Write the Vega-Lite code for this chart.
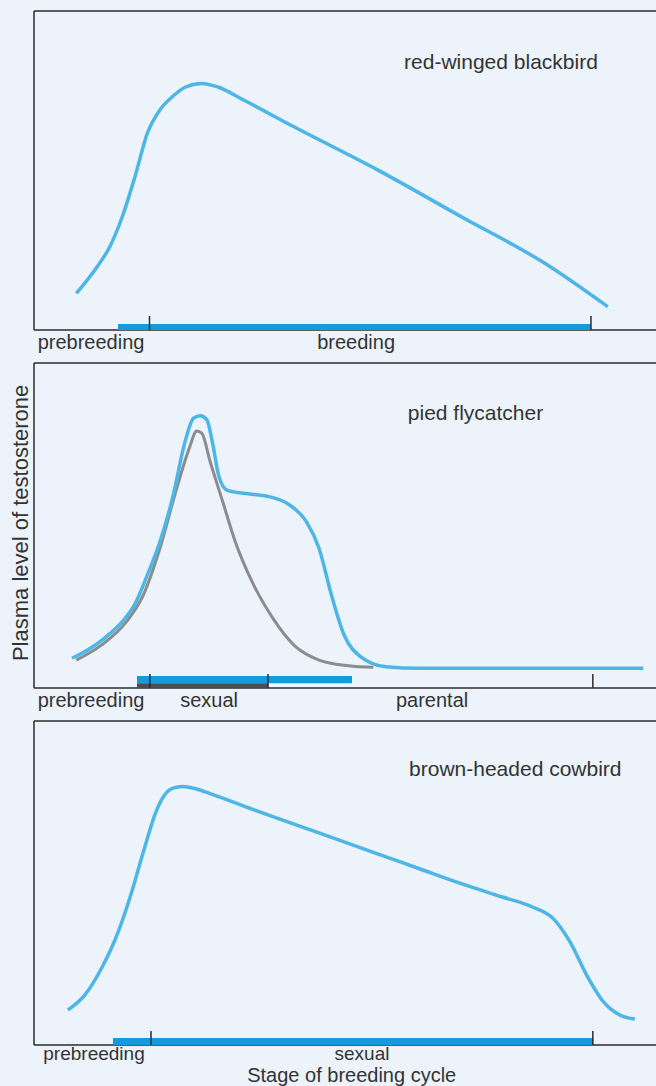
{
  "$schema": "https://vega.github.io/schema/vega-lite/v6.json",
  "background": "#ecf3fa",
  "padding": {"left": 9, "top": 10, "right": 0, "bottom": 0},
  "spacing": 33,
  "bounds": "flush",
  "config": {"view": {"stroke": null}, "text": {"font": "Liberation Sans", "color": "#333333"}},
  "datasets": {
    "one": [{"k": 1}],
    "c1": [
      {"x": 6.79, "y": 11.5}, {"x": 10.14, "y": 19.84}, {"x": 12.17, "y": 26.11}, {"x": 14.17, "y": 35.5},
      {"x": 16.2, "y": 48.0}, {"x": 18.2, "y": 61.7}, {"x": 20.2, "y": 69.0}, {"x": 22.2, "y": 73.1},
      {"x": 24.24, "y": 76.1}, {"x": 26.93, "y": 77.3}, {"x": 29.63, "y": 76.1}, {"x": 33.66, "y": 72.1},
      {"x": 41.72, "y": 63.7}, {"x": 55.15, "y": 50.2}, {"x": 68.59, "y": 35.5}, {"x": 82.0, "y": 20.9},
      {"x": 92.09, "y": 7.3}
    ],
    "t1": [{"x": 18.54}, {"x": 89.4}],
    "b1": [{"x": 13.48, "x2": 89.4}],
    "l1": [{"x": 9.15, "y": -6, "label": "prebreeding"}, {"x": 51.7, "y": -6, "label": "breeding"}],
    "s1": [{"x": 59.4, "y": 81.7, "label": "red-winged blackbird"}],
    "c2": [
      {"x": 6.12, "y": 9.14}, {"x": 8.81, "y": 11.9}, {"x": 11.49, "y": 15.6}, {"x": 14.17, "y": 20.4},
      {"x": 16.2, "y": 25.8}, {"x": 18.2, "y": 34.8}, {"x": 20.22, "y": 45.0}, {"x": 22.23, "y": 58.4},
      {"x": 24.25, "y": 75.8}, {"x": 25.6, "y": 83.0}, {"x": 26.74, "y": 83.8}, {"x": 27.75, "y": 82.5},
      {"x": 28.62, "y": 75.8}, {"x": 29.63, "y": 65.5}, {"x": 30.96, "y": 60.9}, {"x": 33.66, "y": 59.9},
      {"x": 37.69, "y": 58.9}, {"x": 41.04, "y": 56.3}, {"x": 43.72, "y": 51.2}, {"x": 45.75, "y": 43.0},
      {"x": 47.75, "y": 28.6}, {"x": 49.78, "y": 16.3}, {"x": 52.46, "y": 9.6}, {"x": 56.48, "y": 6.55},
      {"x": 61.86, "y": 6.06}, {"x": 97.8, "y": 6.06}
    ],
    "g2": [
      {"x": 6.79, "y": 8.6}, {"x": 10.82, "y": 13.2}, {"x": 14.85, "y": 20.4}, {"x": 17.54, "y": 28.6},
      {"x": 20.22, "y": 43.0}, {"x": 22.9, "y": 61.4}, {"x": 24.93, "y": 73.8}, {"x": 26.13, "y": 79.1},
      {"x": 26.93, "y": 78.4}, {"x": 28.28, "y": 69.6}, {"x": 30.3, "y": 57.3}, {"x": 32.31, "y": 45.0},
      {"x": 35.0, "y": 32.7}, {"x": 38.36, "y": 21.4}, {"x": 41.72, "y": 13.2}, {"x": 45.75, "y": 8.6},
      {"x": 50.45, "y": 6.86}, {"x": 54.48, "y": 6.37}
    ],
    "t2": [{"x": 18.6}, {"x": 37.56}, {"x": 89.7}],
    "b2": [{"x": 16.53, "x2": 51.04}],
    "d2": [{"x": 16.53, "x2": 37.56}],
    "l2": [{"x": 9.15, "y": -5.75, "label": "prebreeding"}, {"x": 28.1, "y": -5.75, "label": "sexual"}, {"x": 63.9, "y": -5.75, "label": "parental"}],
    "s2": [{"x": 60.0, "y": 82.5, "label": "pied flycatcher"}],
    "yt": [{"x": -2.09, "y": 50.8, "label": "Plasma level of testosterone"}],
    "c3": [
      {"x": 5.44, "y": 10.8}, {"x": 8.14, "y": 15.4}, {"x": 10.82, "y": 23.6}, {"x": 13.52, "y": 34.9},
      {"x": 15.52, "y": 46.2}, {"x": 17.54, "y": 59.5}, {"x": 19.55, "y": 71.8}, {"x": 20.9, "y": 77.0},
      {"x": 22.3, "y": 79.3}, {"x": 23.9, "y": 79.8}, {"x": 25.9, "y": 79.1}, {"x": 28.28, "y": 77.6}, {"x": 35.0, "y": 72.8},
      {"x": 41.72, "y": 68.2}, {"x": 48.43, "y": 63.6}, {"x": 55.15, "y": 59.0}, {"x": 61.86, "y": 54.4},
      {"x": 68.59, "y": 49.8}, {"x": 75.3, "y": 45.6}, {"x": 80.0, "y": 42.6}, {"x": 83.35, "y": 39.0},
      {"x": 86.04, "y": 31.8}, {"x": 88.73, "y": 21.5}, {"x": 91.41, "y": 13.3}, {"x": 94.09, "y": 9.2},
      {"x": 96.45, "y": 8.0}
    ],
    "t3": [{"x": 18.78}, {"x": 89.7}],
    "b3": [{"x": 12.68, "x2": 89.7}],
    "l3": [{"x": 9.63, "y": -4.7, "label": "prebreeding"}, {"x": 52.65, "y": -4.7, "label": "sexual"}],
    "s3": [{"x": 60.2, "y": 83.1, "label": "brown-headed cowbird"}],
    "xt": [{"x": 51.0, "y": -11.5, "label": "Stage of breeding cycle"}]
  },
  "vconcat": [
    {
      "width": 623, "height": 319,
      "layer": [
        {"data": {"name": "one"}, "mark": {"type": "rule", "stroke": "#2b2b2b", "strokeWidth": 1.5}, "encoding": {"y": {"datum": 100, "type": "quantitative", "scale": {"domain": [0, 100], "nice": false, "zero": false}, "axis": null}}},
        {"data": {"name": "one"}, "mark": {"type": "rule", "stroke": "#2b2b2b", "strokeWidth": 1.5}, "encoding": {"y": {"datum": 0, "type": "quantitative", "scale": {"domain": [0, 100], "nice": false, "zero": false}, "axis": null}}},
        {"data": {"name": "one"}, "mark": {"type": "rule", "stroke": "#2b2b2b", "strokeWidth": 1.5}, "encoding": {"x": {"datum": 0, "type": "quantitative", "scale": {"domain": [0, 100], "nice": false, "zero": false}, "axis": null}}},
        {"data": {"name": "b1"}, "mark": {"type": "rect", "color": "#149bdb"}, "encoding": {
          "x": {"field": "x", "type": "quantitative", "scale": {"domain": [0, 100], "nice": false, "zero": false}, "axis": null}, "x2": {"field": "x2"},
          "y": {"datum": 0, "type": "quantitative", "scale": {"domain": [0, 100], "nice": false, "zero": false}, "axis": null}, "y2": {"datum": 1.9}}},
        {"data": {"name": "t1"}, "mark": {"type": "rule", "stroke": "#2b2b2b", "strokeWidth": 1.5}, "encoding": {
          "x": {"field": "x", "type": "quantitative", "scale": {"domain": [0, 100], "nice": false, "zero": false}, "axis": null},
          "y": {"datum": 0, "type": "quantitative", "scale": {"domain": [0, 100], "nice": false, "zero": false}, "axis": null}, "y2": {"datum": 4.4}}},
        {"data": {"name": "c1"}, "mark": {"type": "line", "color": "#4db6e6", "strokeWidth": 3.5, "interpolate": "monotone"}, "encoding": {
          "x": {"field": "x", "type": "quantitative", "scale": {"domain": [0, 100], "nice": false, "zero": false}, "axis": null},
          "y": {"field": "y", "type": "quantitative", "scale": {"domain": [0, 100], "nice": false, "zero": false}, "axis": null}}},
        {"data": {"name": "l1"}, "mark": {"type": "text", "fontSize": 20, "align": "center", "baseline": "alphabetic"}, "encoding": {
          "x": {"field": "x", "type": "quantitative", "scale": {"domain": [0, 100], "nice": false, "zero": false}, "axis": null},
          "y": {"field": "y", "type": "quantitative", "scale": {"domain": [0, 100], "nice": false, "zero": false}, "axis": null},
          "text": {"field": "label"}}},
        {"data": {"name": "s1"}, "mark": {"type": "text", "fontSize": 21, "align": "left", "baseline": "alphabetic"}, "encoding": {
          "x": {"field": "x", "type": "quantitative", "scale": {"domain": [0, 100], "nice": false, "zero": false}, "axis": null},
          "y": {"field": "y", "type": "quantitative", "scale": {"domain": [0, 100], "nice": false, "zero": false}, "axis": null},
          "text": {"field": "label"}}}
      ]
    },
    {
      "width": 623, "height": 325,
      "layer": [
        {"data": {"name": "one"}, "mark": {"type": "rule", "stroke": "#2b2b2b", "strokeWidth": 1.5}, "encoding": {"y": {"datum": 100, "type": "quantitative", "scale": {"domain": [0, 100], "nice": false, "zero": false}, "axis": null}}},
        {"data": {"name": "one"}, "mark": {"type": "rule", "stroke": "#2b2b2b", "strokeWidth": 1.5}, "encoding": {"y": {"datum": 0, "type": "quantitative", "scale": {"domain": [0, 100], "nice": false, "zero": false}, "axis": null}}},
        {"data": {"name": "one"}, "mark": {"type": "rule", "stroke": "#2b2b2b", "strokeWidth": 1.5}, "encoding": {"x": {"datum": 0, "type": "quantitative", "scale": {"domain": [0, 100], "nice": false, "zero": false}, "axis": null}}},
        {"data": {"name": "b2"}, "mark": {"type": "rect", "color": "#149bdb"}, "encoding": {
          "x": {"field": "x", "type": "quantitative", "scale": {"domain": [0, 100], "nice": false, "zero": false}, "axis": null}, "x2": {"field": "x2"},
          "y": {"datum": 1.5, "type": "quantitative", "scale": {"domain": [0, 100], "nice": false, "zero": false}, "axis": null}, "y2": {"datum": 3.7}}},
        {"data": {"name": "d2"}, "mark": {"type": "rect", "color": "#4e4e4e"}, "encoding": {
          "x": {"field": "x", "type": "quantitative", "scale": {"domain": [0, 100], "nice": false, "zero": false}, "axis": null}, "x2": {"field": "x2"},
          "y": {"datum": 0, "type": "quantitative", "scale": {"domain": [0, 100], "nice": false, "zero": false}, "axis": null}, "y2": {"datum": 1.5}}},
        {"data": {"name": "t2"}, "mark": {"type": "rule", "stroke": "#2b2b2b", "strokeWidth": 1.5}, "encoding": {
          "x": {"field": "x", "type": "quantitative", "scale": {"domain": [0, 100], "nice": false, "zero": false}, "axis": null},
          "y": {"datum": 0, "type": "quantitative", "scale": {"domain": [0, 100], "nice": false, "zero": false}, "axis": null}, "y2": {"datum": 4.3}}},
        {"data": {"name": "g2"}, "mark": {"type": "line", "color": "#8c8c8c", "strokeWidth": 3, "interpolate": "monotone"}, "encoding": {
          "x": {"field": "x", "type": "quantitative", "scale": {"domain": [0, 100], "nice": false, "zero": false}, "axis": null},
          "y": {"field": "y", "type": "quantitative", "scale": {"domain": [0, 100], "nice": false, "zero": false}, "axis": null}}},
        {"data": {"name": "c2"}, "mark": {"type": "line", "color": "#4db6e6", "strokeWidth": 3.5, "interpolate": "monotone"}, "encoding": {
          "x": {"field": "x", "type": "quantitative", "scale": {"domain": [0, 100], "nice": false, "zero": false}, "axis": null},
          "y": {"field": "y", "type": "quantitative", "scale": {"domain": [0, 100], "nice": false, "zero": false}, "axis": null}}},
        {"data": {"name": "l2"}, "mark": {"type": "text", "fontSize": 20, "align": "center", "baseline": "alphabetic"}, "encoding": {
          "x": {"field": "x", "type": "quantitative", "scale": {"domain": [0, 100], "nice": false, "zero": false}, "axis": null},
          "y": {"field": "y", "type": "quantitative", "scale": {"domain": [0, 100], "nice": false, "zero": false}, "axis": null},
          "text": {"field": "label"}}},
        {"data": {"name": "s2"}, "mark": {"type": "text", "fontSize": 21, "align": "left", "baseline": "alphabetic"}, "encoding": {
          "x": {"field": "x", "type": "quantitative", "scale": {"domain": [0, 100], "nice": false, "zero": false}, "axis": null},
          "y": {"field": "y", "type": "quantitative", "scale": {"domain": [0, 100], "nice": false, "zero": false}, "axis": null},
          "text": {"field": "label"}}},
        {"data": {"name": "yt"}, "mark": {"type": "text", "fontSize": 22, "align": "center", "baseline": "middle", "angle": 270}, "encoding": {
          "x": {"field": "x", "type": "quantitative", "scale": {"domain": [0, 100], "nice": false, "zero": false}, "axis": null},
          "y": {"field": "y", "type": "quantitative", "scale": {"domain": [0, 100], "nice": false, "zero": false}, "axis": null},
          "text": {"field": "label"}}}
      ]
    },
    {
      "width": 623, "height": 324,
      "layer": [
        {"data": {"name": "one"}, "mark": {"type": "rule", "stroke": "#2b2b2b", "strokeWidth": 1.5}, "encoding": {"y": {"datum": 100, "type": "quantitative", "scale": {"domain": [0, 100], "nice": false, "zero": false}, "axis": null}}},
        {"data": {"name": "one"}, "mark": {"type": "rule", "stroke": "#2b2b2b", "strokeWidth": 1.5}, "encoding": {"y": {"datum": 0, "type": "quantitative", "scale": {"domain": [0, 100], "nice": false, "zero": false}, "axis": null}}},
        {"data": {"name": "one"}, "mark": {"type": "rule", "stroke": "#2b2b2b", "strokeWidth": 1.5}, "encoding": {"x": {"datum": 0, "type": "quantitative", "scale": {"domain": [0, 100], "nice": false, "zero": false}, "axis": null}}},
        {"data": {"name": "b3"}, "mark": {"type": "rect", "color": "#149bdb"}, "encoding": {
          "x": {"field": "x", "type": "quantitative", "scale": {"domain": [0, 100], "nice": false, "zero": false}, "axis": null}, "x2": {"field": "x2"},
          "y": {"datum": 0, "type": "quantitative", "scale": {"domain": [0, 100], "nice": false, "zero": false}, "axis": null}, "y2": {"datum": 2.15}}},
        {"data": {"name": "t3"}, "mark": {"type": "rule", "stroke": "#2b2b2b", "strokeWidth": 1.5}, "encoding": {
          "x": {"field": "x", "type": "quantitative", "scale": {"domain": [0, 100], "nice": false, "zero": false}, "axis": null},
          "y": {"datum": 0, "type": "quantitative", "scale": {"domain": [0, 100], "nice": false, "zero": false}, "axis": null}, "y2": {"datum": 4.3}}},
        {"data": {"name": "c3"}, "mark": {"type": "line", "color": "#4db6e6", "strokeWidth": 3.5, "interpolate": "monotone"}, "encoding": {
          "x": {"field": "x", "type": "quantitative", "scale": {"domain": [0, 100], "nice": false, "zero": false}, "axis": null},
          "y": {"field": "y", "type": "quantitative", "scale": {"domain": [0, 100], "nice": false, "zero": false}, "axis": null}}},
        {"data": {"name": "l3"}, "mark": {"type": "text", "fontSize": 19, "align": "center", "baseline": "alphabetic"}, "encoding": {
          "x": {"field": "x", "type": "quantitative", "scale": {"domain": [0, 100], "nice": false, "zero": false}, "axis": null},
          "y": {"field": "y", "type": "quantitative", "scale": {"domain": [0, 100], "nice": false, "zero": false}, "axis": null},
          "text": {"field": "label"}}},
        {"data": {"name": "s3"}, "mark": {"type": "text", "fontSize": 21, "align": "left", "baseline": "alphabetic"}, "encoding": {
          "x": {"field": "x", "type": "quantitative", "scale": {"domain": [0, 100], "nice": false, "zero": false}, "axis": null},
          "y": {"field": "y", "type": "quantitative", "scale": {"domain": [0, 100], "nice": false, "zero": false}, "axis": null},
          "text": {"field": "label"}}},
        {"data": {"name": "xt"}, "mark": {"type": "text", "fontSize": 20, "align": "center", "baseline": "alphabetic"}, "encoding": {
          "x": {"field": "x", "type": "quantitative", "scale": {"domain": [0, 100], "nice": false, "zero": false}, "axis": null},
          "y": {"field": "y", "type": "quantitative", "scale": {"domain": [0, 100], "nice": false, "zero": false}, "axis": null},
          "text": {"field": "label"}}}
      ]
    }
  ]
}
